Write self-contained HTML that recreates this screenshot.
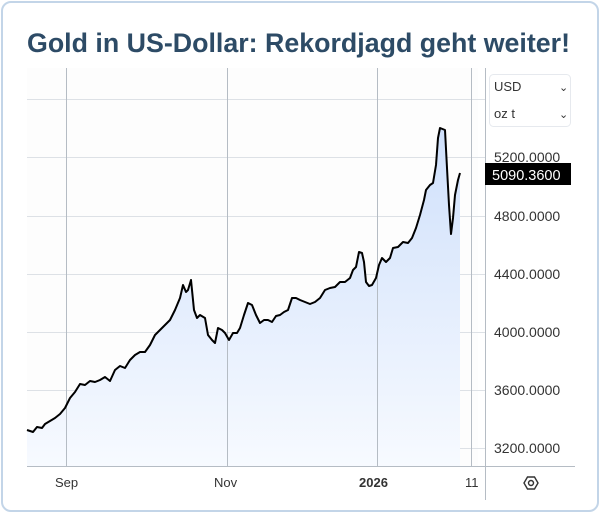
<!DOCTYPE html>
<html><head><meta charset="utf-8"><style>
html,body{margin:0;padding:0;background:#fff;}
body{width:600px;height:513px;position:relative;overflow:hidden;font-family:"Liberation Sans",sans-serif;}
.frame{position:absolute;left:1px;top:1px;width:594px;height:507px;border:2px solid #c3d5e8;border-radius:10px;}
</style></head><body>
<div class="frame"></div>
<svg width="600" height="513" style="position:absolute;left:0;top:0">
<defs><linearGradient id="g" x1="0" y1="0" x2="0" y2="1"><stop offset="0" stop-color="#cfe0fb"/><stop offset="1" stop-color="#f7faff"/></linearGradient></defs>
<text x="27" y="52" font-family="Liberation Sans" font-weight="bold" font-size="27" fill="#2d4b66" textLength="543" lengthAdjust="spacingAndGlyphs">Gold in US-Dollar: Rekordjagd geht weiter!</text>
<rect x="27" y="68" width="451" height="398" fill="#fdfdfd"/>
<g stroke="#dde1e6" stroke-width="1">
<line x1="27" y1="99.5" x2="485" y2="99.5"/><line x1="27" y1="157.5" x2="485" y2="157.5"/><line x1="27" y1="216.5" x2="485" y2="216.5"/><line x1="27" y1="274.5" x2="485" y2="274.5"/><line x1="27" y1="332.5" x2="485" y2="332.5"/><line x1="27" y1="390.5" x2="485" y2="390.5"/><line x1="27" y1="448.5" x2="485" y2="448.5"/>
</g>
<polygon fill="url(#g)" points="27,466 27,430 33,432 37,427 42,428 45,424 50,421 55,418 60,414 65,408 70,398 75,392 80,384 85,385 90,381 95,382 100,380 105,377 110,381 115,370 120,366 125,368 130,360 135,355 140,352 145,352 150,345 155,335 160,330 165,325 170,320 175,310 180,298 183,285 186,292 188,290 191,280 194,310 197,318 200,315 205,318 208,335 212,340 215,343 218,328 222,330 225,333 229,340 233,333 237,333 240,328 244,315 248,303 252,305 256,315 260,323 264,320 268,320 272,322 276,316 280,315 284,312 288,310 292,298 296,298 300,300 305,302 310,304 315,302 320,298 325,290 330,288 335,287 340,282 345,282 350,278 353,270 356,267 359,252 362,253 364,262 366,282 369,286 372,285 376,278 379,265 382,258 386,262 390,258 393,248 398,247 403,242 408,243 412,238 416,228 420,215 424,200 426,190 430,185 433,183 436,165 438,138 440,128 445,130 447,168 449,205 451,234 453,218 455,195 458,180 460,173 460,466"/>
<g stroke="#b5bcc4" stroke-width="1">
<line x1="66.5" y1="68" x2="66.5" y2="466"/><line x1="227.5" y1="68" x2="227.5" y2="466"/><line x1="377.5" y1="68" x2="377.5" y2="466"/><line x1="471.5" y1="68" x2="471.5" y2="466"/>
<line x1="485.5" y1="68" x2="485.5" y2="500"/>
<line x1="27" y1="466.5" x2="575" y2="466.5"/>
</g>
<polyline fill="none" stroke="#000" stroke-width="2" stroke-linejoin="round" points="27,430 33,432 37,427 42,428 45,424 50,421 55,418 60,414 65,408 70,398 75,392 80,384 85,385 90,381 95,382 100,380 105,377 110,381 115,370 120,366 125,368 130,360 135,355 140,352 145,352 150,345 155,335 160,330 165,325 170,320 175,310 180,298 183,285 186,292 188,290 191,280 194,310 197,318 200,315 205,318 208,335 212,340 215,343 218,328 222,330 225,333 229,340 233,333 237,333 240,328 244,315 248,303 252,305 256,315 260,323 264,320 268,320 272,322 276,316 280,315 284,312 288,310 292,298 296,298 300,300 305,302 310,304 315,302 320,298 325,290 330,288 335,287 340,282 345,282 350,278 353,270 356,267 359,252 362,253 364,262 366,282 369,286 372,285 376,278 379,265 382,258 386,262 390,258 393,248 398,247 403,242 408,243 412,238 416,228 420,215 424,200 426,190 430,185 433,183 436,165 438,138 440,128 445,130 447,168 449,205 451,234 453,218 455,195 458,180 460,173"/>
<rect x="489.5" y="74.5" width="81" height="52" rx="4" fill="#fff" stroke="#e6e9ee"/>
<g font-family="Liberation Sans" font-size="13" fill="#333">
<text x="494" y="91">USD</text><text x="494" y="118">oz t</text>
<text x="559" y="91" font-size="11">⌄</text><text x="559" y="118" font-size="11">⌄</text>
</g>
<g font-family="Liberation Sans" font-size="14" fill="#333">
<text x="494" y="162">5200.0000</text><text x="494" y="221">4800.0000</text><text x="494" y="279">4400.0000</text><text x="494" y="337">4000.0000</text><text x="494" y="395">3600.0000</text><text x="494" y="453">3200.0000</text>
</g>
<rect x="485" y="163" width="86" height="22" fill="#000"/>
<text x="492" y="180" font-family="Liberation Sans" font-size="14.5" fill="#fff">5090.3600</text>
<g font-family="Liberation Sans" font-size="13" fill="#333">
<text x="55" y="487">Sep</text><text x="214" y="487">Nov</text><text x="359" y="487" font-weight="bold">2026</text><text x="465" y="487">11</text>
</g>
<g transform="translate(531,483)" fill="none" stroke="#333" stroke-width="1.4"><polygon points="-7,0 -3.5,-6 3.5,-6 7,0 3.5,6 -3.5,6"/><circle r="2.5"/></g>
</svg>
</body></html>
